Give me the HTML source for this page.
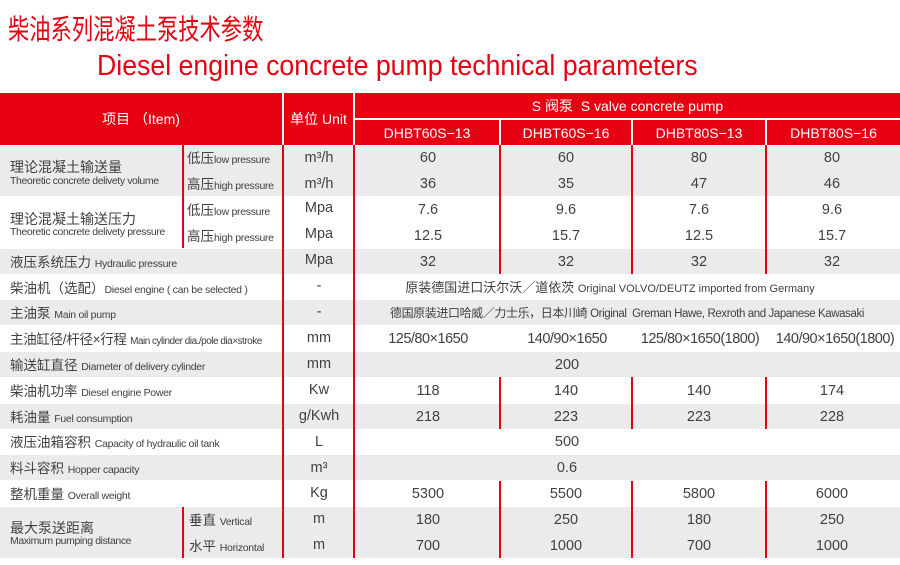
<!DOCTYPE html>
<html><head><meta charset="utf-8"><style>
*{margin:0;padding:0;box-sizing:border-box}
body{width:900px;height:565px;background:#fff;position:relative;overflow:hidden;font-family:"Liberation Sans","Noto Sans CJK SC",sans-serif;color:#404040}
.a{position:absolute;white-space:nowrap}
.t1{left:8px;top:8px;font-size:28px;color:#e60012;font-family:"Noto Sans CJK SC",sans-serif;transform-origin:0 0;transform:scaleX(0.76)}
.t2{left:97px;top:50px;font-size:29px;color:#e60012;transform-origin:0 0;transform:scaleX(0.92)}
.hd{background:#e60012;color:#fff;font-size:14px;display:flex;align-items:center;justify-content:center}
.g{background:#ebebeb}
.c{font-size:14.5px;text-align:center;line-height:26px;transform:translateX(-50%)}
.l{font-size:13.5px;line-height:27px}
.l small{font-size:10.5px;letter-spacing:-0.3px}
.r{background:#e60012;width:2px}
</style></head><body>
<div class="a t1">柴油系列混凝土泵技术参数</div>
<div class="a t2">Diesel engine concrete pump technical parameters</div>

<div class="a hd" style="left:0;top:93px;width:282px;height:52px">项目 （Item)</div>
<div class="a hd" style="left:284px;top:93px;width:69px;height:52px">单位 Unit</div>
<div class="a hd" style="left:355px;top:93px;width:545px;height:25px">S 阀泵&nbsp; S valve concrete pump</div>
<div class="a hd" style="left:355px;top:120px;width:144px;height:25px">DHBT60S−13</div>
<div class="a hd" style="left:501px;top:120px;width:130px;height:25px">DHBT60S−16</div>
<div class="a hd" style="left:633px;top:120px;width:132px;height:25px">DHBT80S−13</div>
<div class="a hd" style="left:767px;top:120px;width:133px;height:25px">DHBT80S−16</div>

<div class="a g" style="left:0;top:146px;width:900px;height:50px"></div>
<div class="a g" style="left:0;top:249px;width:900px;height:25px"></div>
<div class="a g" style="left:0;top:300px;width:900px;height:25px"></div>
<div class="a g" style="left:0;top:352px;width:900px;height:25px"></div>
<div class="a g" style="left:0;top:404px;width:900px;height:25px"></div>
<div class="a g" style="left:0;top:455px;width:900px;height:25px"></div>
<div class="a g" style="left:0;top:507px;width:900px;height:51px"></div>

<div class="a r" style="left:282px;top:145px;height:413px"></div>
<div class="a r" style="left:353px;top:145px;height:413px"></div>
<div class="a r" style="left:182px;top:145px;height:103px"></div>
<div class="a r" style="left:182px;top:507px;height:51px"></div>
<div class="a r" style="left:499px;top:145px;height:129px"></div>
<div class="a r" style="left:631px;top:145px;height:129px"></div>
<div class="a r" style="left:765px;top:145px;height:129px"></div>
<div class="a r" style="left:499px;top:377px;height:52px"></div>
<div class="a r" style="left:631px;top:377px;height:52px"></div>
<div class="a r" style="left:765px;top:377px;height:52px"></div>
<div class="a r" style="left:499px;top:481px;height:77px"></div>
<div class="a r" style="left:631px;top:481px;height:77px"></div>
<div class="a r" style="left:765px;top:481px;height:77px"></div>

<div class="a" style="left:10px;top:157px;font-size:14px">理论混凝土输送量</div>
<div class="a" style="left:10px;top:175px;font-size:10.5px;letter-spacing:-0.4px">Theoretic concrete delivety volume</div>
<div class="a" style="left:10px;top:209px;font-size:14px">理论混凝土输送压力</div>
<div class="a" style="left:10px;top:226px;font-size:10.5px;letter-spacing:-0.4px">Theoretic concrete delivety pressure</div>
<div class="a" style="left:10px;top:518px;font-size:14px">最大泵送距离</div>
<div class="a" style="left:10px;top:535px;font-size:10.5px;letter-spacing:-0.4px">Maximum pumping distance</div>

<div class="a l" style="left:187px;top:145px">低压<small>low pressure</small></div>
<div class="a l" style="left:187px;top:171px">高压<small>high pressure</small></div>
<div class="a l" style="left:187px;top:197px">低压<small>low pressure</small></div>
<div class="a l" style="left:187px;top:223px">高压<small>high pressure</small></div>
<div class="a l" style="left:189px;top:507px">垂直 <small>Vertical</small></div>
<div class="a l" style="left:189px;top:533px">水平 <small>Horizontal</small></div>

<div class="a l" style="left:10px;top:249px">液压系统压力 <small>Hydraulic pressure</small></div>
<div class="a l" style="left:10px;top:275px">柴油机（选配）<small>Diesel engine ( can be selected )</small></div>
<div class="a l" style="left:10px;top:300px">主油泵 <small>Main oil pump</small></div>
<div class="a l" style="left:10px;top:326px;letter-spacing:-0.3px">主油缸径/杆径×行程 <small style="font-size:10px;letter-spacing:-0.5px">Main cylinder dia./pole dia×stroke</small></div>
<div class="a l" style="left:10px;top:352px">输送缸直径 <small>Diameter of delivery cylinder</small></div>
<div class="a l" style="left:10px;top:378px">柴油机功率 <small>Diesel engine Power</small></div>
<div class="a l" style="left:10px;top:404px">耗油量 <small>Fuel consumption</small></div>
<div class="a l" style="left:10px;top:429px">液压油箱容积 <small>Capacity of hydraulic oil tank</small></div>
<div class="a l" style="left:10px;top:455px">料斗容积 <small>Hopper capacity</small></div>
<div class="a l" style="left:10px;top:481px">整机重量 <small>Overall weight</small></div>

<div class="a c" style="left:319px;top:145px">m³/h</div>
<div class="a c" style="left:319px;top:171px">m³/h</div>
<div class="a c" style="left:319px;top:195px">Mpa</div>
<div class="a c" style="left:319px;top:221px">Mpa</div>
<div class="a c" style="left:319px;top:247px">Mpa</div>
<div class="a c" style="left:319px;top:273px">-</div>
<div class="a c" style="left:319px;top:299px">-</div>
<div class="a c" style="left:319px;top:325px">mm</div>
<div class="a c" style="left:319px;top:351px">mm</div>
<div class="a c" style="left:319px;top:377px">Kw</div>
<div class="a c" style="left:319px;top:403px">g/Kwh</div>
<div class="a c" style="left:319px;top:429px">L</div>
<div class="a c" style="left:319px;top:455px">m³</div>
<div class="a c" style="left:319px;top:480px">Kg</div>
<div class="a c" style="left:319px;top:506px">m</div>
<div class="a c" style="left:319px;top:532px">m</div>

<div class="a c" style="left:428px;top:145px">60</div><div class="a c" style="left:566px;top:145px">60</div><div class="a c" style="left:699px;top:145px">80</div><div class="a c" style="left:832px;top:145px">80</div>
<div class="a c" style="left:428px;top:171px">36</div><div class="a c" style="left:566px;top:171px">35</div><div class="a c" style="left:699px;top:171px">47</div><div class="a c" style="left:832px;top:171px">46</div>
<div class="a c" style="left:428px;top:197px">7.6</div><div class="a c" style="left:566px;top:197px">9.6</div><div class="a c" style="left:699px;top:197px">7.6</div><div class="a c" style="left:832px;top:197px">9.6</div>
<div class="a c" style="left:428px;top:223px">12.5</div><div class="a c" style="left:566px;top:223px">15.7</div><div class="a c" style="left:699px;top:223px">12.5</div><div class="a c" style="left:832px;top:223px">15.7</div>
<div class="a c" style="left:428px;top:249px">32</div><div class="a c" style="left:566px;top:249px">32</div><div class="a c" style="left:699px;top:249px">32</div><div class="a c" style="left:832px;top:249px">32</div>
<div class="a c" style="left:610px;top:275px;font-size:13px">原装德国进口沃尔沃／道依茨 <span style="font-size:11px">Original VOLVO/DEUTZ imported from Germany</span></div>
<div class="a c" style="left:627px;top:300px;font-size:12px;letter-spacing:-0.4px">德国原装进口哈威／力士乐，日本川崎 <span style="font-size:11.5px">Original&nbsp; Greman Hawe, Rexroth and Japanese Kawasaki</span></div>
<div class="a c" style="left:428px;top:326px;letter-spacing:-0.5px">125/80×1650</div><div class="a c" style="left:567px;top:326px;letter-spacing:-0.5px">140/90×1650</div><div class="a c" style="left:700px;top:326px;letter-spacing:-0.5px">125/80×1650(1800)</div><div class="a c" style="left:835px;top:326px;letter-spacing:-0.5px">140/90×1650(1800)</div>
<div class="a c" style="left:567px;top:352px">200</div>
<div class="a c" style="left:428px;top:378px">118</div><div class="a c" style="left:566px;top:378px">140</div><div class="a c" style="left:699px;top:378px">140</div><div class="a c" style="left:832px;top:378px">174</div>
<div class="a c" style="left:428px;top:404px">218</div><div class="a c" style="left:566px;top:404px">223</div><div class="a c" style="left:699px;top:404px">223</div><div class="a c" style="left:832px;top:404px">228</div>
<div class="a c" style="left:567px;top:429px">500</div>
<div class="a c" style="left:567px;top:455px">0.6</div>
<div class="a c" style="left:428px;top:481px">5300</div><div class="a c" style="left:566px;top:481px">5500</div><div class="a c" style="left:699px;top:481px">5800</div><div class="a c" style="left:832px;top:481px">6000</div>
<div class="a c" style="left:428px;top:507px">180</div><div class="a c" style="left:566px;top:507px">250</div><div class="a c" style="left:699px;top:507px">180</div><div class="a c" style="left:832px;top:507px">250</div>
<div class="a c" style="left:428px;top:533px">700</div><div class="a c" style="left:566px;top:533px">1000</div><div class="a c" style="left:699px;top:533px">700</div><div class="a c" style="left:832px;top:533px">1000</div>
</body></html>
